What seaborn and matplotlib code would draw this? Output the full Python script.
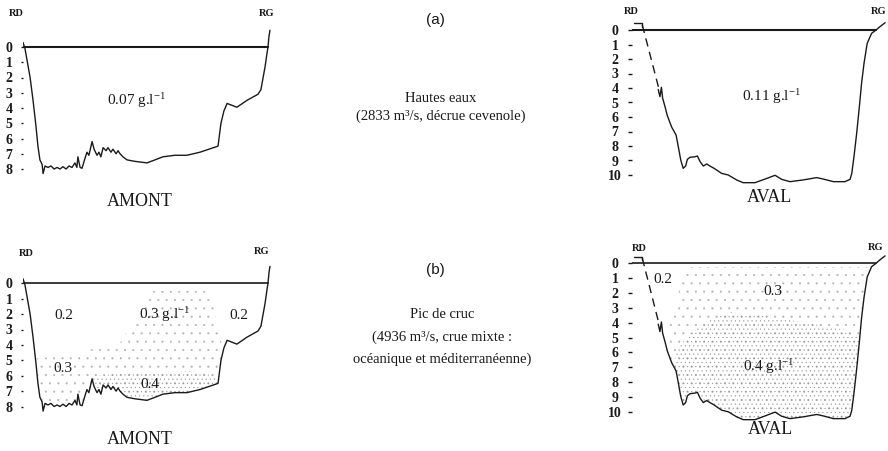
import numpy as np
import pandas as pd
import matplotlib
matplotlib.use("Agg")
import matplotlib.pyplot as plt
from matplotlib.patches import Polygon
import seaborn as sns

# ---------------- data (x = % of width from RD bank, depth in m) ----------------
amont_ticks = [0, 1, 2, 3, 4, 5, 6, 7, 8]
aval_ticks = [0, 1, 2, 3, 4, 5, 6, 7, 8, 9, 10]

amont_x = [0.0, 0.8, 2.9, 4.1, 5.3, 6.1, 6.9, 7.8, 8.2, 9.0, 10.2, 11.4, 12.7, 13.9,
           15.1, 16.3, 17.6, 18.8, 20.0, 21.2, 22.0, 22.4, 23.3, 24.1, 25.3, 26.1,
           26.9, 28.2, 29.0, 30.2, 31.0, 31.8, 32.7, 33.9, 34.7, 35.9, 36.7, 38.0,
           38.8, 39.6, 40.8, 42.4, 45.7, 50.6, 53.9, 57.1, 62.0, 66.9, 72.2, 79.6,
           80.8, 82.0, 83.3, 87.3, 91.4, 95.9, 97.1, 98.8, 99.6, 100.0, 100.4, 100.8]
amont_depth = [-0.3, 0.1, 2.0, 3.5, 5.2, 6.5, 7.4, 7.7, 8.3, 7.8, 7.9, 7.8, 8.0, 7.9,
               8.0, 7.85, 8.0, 7.8, 7.9, 7.6, 7.9, 7.2, 7.9, 7.95, 7.3, 6.9,
               7.1, 6.2, 6.7, 7.1, 6.9, 7.2, 6.6, 6.8, 6.6, 6.9, 6.7, 7.0,
               6.8, 7.0, 7.2, 7.4, 7.5, 7.6, 7.4, 7.2, 7.1, 7.1, 6.9, 6.5,
               5.0, 4.2, 3.7, 3.95, 3.5, 3.1, 2.8, 1.3, 0.4, 0.0, -0.7, -1.1]
amont_water_x = [0.0, 100.0]

aval_x = [10.7, 11.4, 12.0, 12.5, 13.5, 14.4, 16.2, 18.0, 18.9, 19.9, 20.9, 21.9,
          22.6, 23.7, 25.7, 26.7, 27.8, 29.1, 30.5, 31.8, 33.5, 36.6, 39.3, 42.7,
          45.4, 50.2, 54.3, 58.4, 61.1, 64.5, 69.9, 75.4, 78.1, 82.2, 86.9, 89.0,
          89.7, 90.6, 91.7, 92.8, 93.7, 94.7, 96.0, 97.8, 99.6, 101.2, 103.3]
aval_depth = [4.1, 4.6, 3.95, 4.7, 5.3, 5.9, 6.7, 7.25, 8.05, 8.97, 9.54, 9.38,
              8.92, 8.78, 8.74, 8.69, 9.08, 9.38, 9.24, 9.38, 9.54, 9.89, 10.0, 10.34,
              10.53, 10.53, 10.28, 10.02, 10.3, 10.46, 10.34, 10.18, 10.28, 10.46, 10.46, 10.3,
              9.9, 8.74, 7.13, 5.29, 3.68, 2.3, 0.92, 0.23, 0.0, -0.23, -0.5]
aval_rd_x = [4.2, 10.9]          # dashed (uncertain) RD bank
aval_rd_depth = [-0.35, 4.0]
aval_mark_x = [0.8, 4.2, 4.2]    # small bracket at RD
aval_mark_depth = [-0.45, -0.45, -0.2]
aval_water_x = [0.0, 99.6]

# stippled concentration zones in (b)
amont_z03_x = [51.8, 76.3, 81.2, 84.5, 84.5, 0.0, 0.0, 20.0, 40.0, 48.0]
amont_z03_depth = [0.5, 0.5, 4.0, 6.0, 9.0, 9.0, 5.0, 4.6, 3.8, 1.5]
amont_z04_x = [25.3, 29.4, 47.8, 68.2, 78.4, 80.4, 80.4, 25.3]
amont_z04_depth = [7.0, 6.0, 5.8, 5.7, 6.0, 6.5, 9.0, 9.0]
aval_z03_x = [22.0, 105.0, 105.0, 10.0, 12.7, 15.5]
aval_z03_depth = [0.3, 0.3, 11.0, 11.0, 8.4, 3.9]
aval_z04_x = [18.2, 29.1, 40.0, 56.3, 71.3, 87.6, 93.0, 95.0, 15.0]
aval_z04_depth = [5.7, 4.0, 3.3, 3.6, 4.0, 4.5, 5.0, 11.0, 11.0]

G = "g.l$^{-1}$"
a_amont_labels = ["0.07 " + G]
a_aval_labels = ["0.11 " + G]
b_amont_labels = ["0.2", "0.3 " + G, "0.2", "0.3", "0.4"]
b_aval_labels = ["0.2", "0.3", "0.4 " + G]

title_a = ["(a)", "Hautes eaux", "(2833 m³/s, décrue cevenole)"]
title_b = ["(b)", "Pic de cruc", "(4936 m³/s, crue mixte :", "océanique et méditerranéenne)"]

# ---------------- style ----------------
sns.set_style("white")
plt.rcParams["font.family"] = ["Liberation Serif", "DejaVu Serif"]
plt.rcParams["mathtext.fontset"] = "custom"
plt.rcParams["mathtext.rm"] = "Liberation Serif"
plt.rcParams["mathtext.default"] = "regular"
plt.rcParams["hatch.linewidth"] = 0.3
INK = "#1a1a1a"

W, H = 888, 451
fig = plt.figure(figsize=(W / 100, H / 100), dpi=100)
fig.patch.set_facecolor("white")


def line(ax, x, d, lw, ls="-"):
    df = pd.DataFrame({"x": x, "depth": d})
    sns.lineplot(data=df, x="x", y="depth", sort=False, estimator=None, ax=ax,
                 color=INK, linewidth=lw, linestyle=ls)


def setup(ax, box, x0, sx, y0, sy, ticks, tlen, tpad):
    l, t, r, b = box
    ax.set_xlim((l - x0) / sx, (r - x0) / sx)
    ax.set_ylim((b - y0) / sy, (t - y0) / sy)
    ax.set_facecolor("none")
    for s in ax.spines.values():
        s.set_visible(False)
    ax.set_xticks([])
    ax.set_yticks(ticks)
    ax.set_yticklabels([str(v) for v in ticks], fontweight="bold")
    ax.tick_params(axis="y", left=True, direction="out", length=tlen, width=1.0,
                   pad=tpad, labelsize=10, colors=INK)
    for lab in ax.get_yticklabels():
        lab.set_ha("center")
    ax.set_xlabel("")
    ax.set_ylabel("")


def new_ax(box):
    l, t, r, b = box
    return fig.add_axes([l / W, 1 - b / H, (r - l) / W, (b - t) / H])


def section_clip(ax, xs, ds):
    pts = np.column_stack([xs, np.maximum(np.asarray(ds), 0.0)])
    return Polygon(pts, closed=True, transform=ax.transData, facecolor="none", edgecolor="none")


def zone(ax, clip, xs, ds, hatch, color):
    p = ax.fill(xs, ds, facecolor="none", edgecolor=color, hatch=hatch, linewidth=0)[0]
    p.set_clip_path(clip)


def ftext(x, y, s, size, **kw):
    fig.text(x / W, 1 - y / H, s, ha="center", va="center", fontsize=size, color=INK, **kw)


# ---------------- panel (a) AMONT ----------------
box = (23, 22, 275, 185)
ax = new_ax(box)
line(ax, amont_x, amont_depth, 1.0)
line(ax, amont_water_x, [0, 0], 1.5)
setup(ax, box, 23, 2.45, 47, 15.25, amont_ticks, 1.5, 8.6)
ax.text(46.5, 3.5, a_amont_labels[0], ha="center", va="center", fontsize=11, color=INK)

# ---------------- panel (a) AVAL ----------------
box = (632, 12, 888, 190)
ax = new_ax(box)
line(ax, aval_x, aval_depth, 1.0)
line(ax, aval_rd_x, aval_rd_depth, 1.0, ls=(0, (6, 4)))
line(ax, aval_mark_x, aval_mark_depth, 1.0)
line(ax, aval_water_x, [0, 0], 1.5)
setup(ax, box, 632, 2.45, 30, 14.5, aval_ticks, 3, 9.2)
ax.text(57.1, 4.6, a_aval_labels[0], ha="center", va="center", fontsize=11, color=INK)

# ---------------- panel (b) AMONT ----------------
box = (23, 258, 275, 420)
ax = new_ax(box)
clip = section_clip(ax, amont_x, amont_depth)
zone(ax, clip, amont_z03_x, amont_z03_depth, "..", "#b4b4b4")
zone(ax, clip, amont_z04_x, amont_z04_depth, "....", "#959595")
line(ax, amont_x, amont_depth, 1.0)
line(ax, amont_water_x, [0, 0], 1.2)
setup(ax, box, 23, 2.45, 283.3, 15.4, amont_ticks, 1.5, 8.6)
for s, (px, pd_) in zip(b_amont_labels, [(16.7, 2.06), (57.8, 2.06), (88.2, 2.06), (16.3, 5.56), (51.8, 6.55)]):
    ax.text(px, pd_, s, ha="center", va="center", fontsize=11, color=INK)

# ---------------- panel (b) AVAL ----------------
box = (632, 244, 888, 425)
ax = new_ax(box)
clip = section_clip(ax, aval_rd_x + aval_x, [0.0, aval_rd_depth[1]] + aval_depth)
zone(ax, clip, aval_z03_x, aval_z03_depth, "..", "#b4b4b4")
zone(ax, clip, aval_z04_x, aval_z04_depth, "....", "#959595")
line(ax, aval_x, aval_depth, 1.0)
line(ax, aval_rd_x, aval_rd_depth, 1.0, ls=(0, (6, 4)))
line(ax, aval_mark_x, aval_mark_depth, 1.0)
line(ax, aval_water_x, [0, 0], 1.2)
setup(ax, box, 632, 2.45, 263.3, 14.85, aval_ticks, 3, 9.2)
for s, (px, pd_) in zip(b_aval_labels, [(12.7, 1.06), (57.6, 1.9), (55.9, 6.95)]):
    ax.text(px, pd_, s, ha="center", va="center", fontsize=11, color=INK)

# ---------------- bank / section names ----------------
for (x, y, s) in [(16, 14, "RD"), (267, 14, "RG"), (631, 11, "RD"), (879, 11, "RG"),
                  (26, 253, "RD"), (262, 252, "RG"), (639, 248, "RD"), (876, 247, "RG")]:
    ftext(x, y, s, 7.5, fontweight="bold")
for (x, y, s) in [(140, 202, "AMONT"), (769, 198, "AVAL"), (140, 439, "AMONT"), (770, 430, "AVAL")]:
    ftext(x, y, s, 13)

# ---------------- central captions ----------------
ftext(435, 20, title_a[0], 11, family=["Liberation Sans", "DejaVu Sans"])
ftext(441, 98, title_a[1], 10.5)
ftext(441, 116, title_a[2], 10.5)
ftext(435, 270, title_b[0], 11, family=["Liberation Sans", "DejaVu Sans"])
ftext(442, 315, title_b[1], 10.5)
ftext(442, 337, title_b[2], 10.5)
ftext(442, 359, title_b[3], 10.5)

fig.savefig("out.png", dpi=100, facecolor="white")
